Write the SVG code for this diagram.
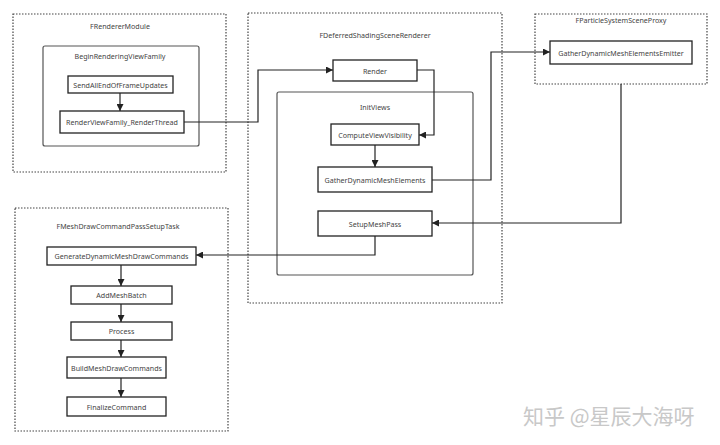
<svg xmlns="http://www.w3.org/2000/svg" width="720" height="445" viewBox="0 0 720 445">
<defs>
<marker id="arr" viewBox="0 0 10 10" refX="10" refY="5" markerWidth="7" markerHeight="7" markerUnits="userSpaceOnUse" orient="auto">
<path d="M0,0 L10,5 L0,10 z" fill="#222"/>
</marker>
<style>
text{font-family:"Noto Sans","Open Sans","DejaVu Sans",sans-serif;font-size:7.1px;fill:#444;text-anchor:middle;dominant-baseline:central}
.grp{fill:none;stroke:#444;stroke-width:1.2;stroke-dasharray:1.5 1.5}
.sub{fill:none;stroke:#555;stroke-width:1.2}
.box{fill:#fff;stroke:#222;stroke-width:1.3}
.c{fill:none;stroke:#222;stroke-width:1.2}
.wm{font-family:"Noto Sans CJK SC",sans-serif;font-size:21px;fill:#c8c8c8;text-anchor:start;dominant-baseline:auto}
</style>
</defs>
<rect width="720" height="445" fill="#fff"/>

<g id="FRendererModule">
<rect class="grp" x="13" y="14" width="213" height="158"/>
<text x="120" y="26">FRendererModule</text>
</g>
<g id="BeginRenderingViewFamily">
<rect class="sub" x="43" y="46" width="156" height="100" rx="2"/>
<text x="120" y="56">BeginRenderingViewFamily</text>
</g>
<g id="SendAllEndOfFrameUpdates">
<rect class="box" x="68" y="76" width="105" height="17"/>
<text x="120.5" y="84.5">SendAllEndOfFrameUpdates</text>
</g>
<g id="RenderViewFamily_RenderThread">
<rect class="box" x="60" y="111" width="124" height="22"/>
<text x="122" y="122">RenderViewFamily_RenderThread</text>
</g>

<g id="FDeferredShadingSceneRenderer">
<rect class="grp" x="248" y="13" width="254" height="290"/>
<text x="375" y="35">FDeferredShadingSceneRenderer</text>
</g>
<g id="Render">
<rect class="box" x="333" y="60" width="84" height="21"/>
<text x="375" y="70.5">Render</text>
</g>
<g id="InitViews">
<rect class="sub" x="277" y="92" width="196" height="183" rx="2"/>
<text x="375" y="107">InitViews</text>
</g>
<g id="ComputeViewVisibility">
<rect class="box" x="331" y="124" width="88" height="21"/>
<text x="375" y="134.5">ComputeViewVisibility</text>
</g>
<g id="GatherDynamicMeshElements">
<rect class="box" x="318" y="167" width="114" height="25"/>
<text x="375" y="179.5">GatherDynamicMeshElements</text>
</g>
<g id="SetupMeshPass">
<rect class="box" x="318" y="211" width="114" height="25"/>
<text x="375" y="223.5">SetupMeshPass</text>
</g>

<g id="FParticleSystemSceneProxy">
<rect class="grp" x="535" y="14" width="172" height="70"/>
<text x="621" y="20">FParticleSystemSceneProxy</text>
</g>
<g id="GatherDynamicMeshElementsEmitter">
<rect class="box" x="550" y="41" width="142" height="23"/>
<text x="621" y="52.5">GatherDynamicMeshElementsEmitter</text>
</g>

<g id="FMeshDrawCommandPassSetupTask">
<rect class="grp" x="15" y="208" width="213" height="223"/>
<text x="118" y="226">FMeshDrawCommandPassSetupTask</text>
</g>
<g id="GenerateDynamicMeshDrawCommands">
<rect class="box" x="47" y="247" width="149" height="18"/>
<text x="121.5" y="256">GenerateDynamicMeshDrawCommands</text>
</g>
<g id="AddMeshBatch">
<rect class="box" x="71" y="286" width="101" height="18"/>
<text x="121.5" y="295">AddMeshBatch</text>
</g>
<g id="Process">
<rect class="box" x="71" y="322" width="101" height="18"/>
<text x="121.5" y="331">Process</text>
</g>
<g id="BuildMeshDrawCommands">
<rect class="box" x="67" y="357" width="99" height="21"/>
<text x="116.5" y="367.5">BuildMeshDrawCommands</text>
</g>
<g id="FinalizeCommand">
<rect class="box" x="67" y="397" width="99" height="19"/>
<text x="116.5" y="406.5">FinalizeCommand</text>
</g>

<g id="connectors">
<path class="c" d="M120,93 V111" marker-end="url(#arr)"/>
<path class="c" d="M184,122 H258 V70 H333" marker-end="url(#arr)"/>
<path class="c" d="M417,70 H434 V135 H419" marker-end="url(#arr)"/>
<path class="c" d="M375,145 V167" marker-end="url(#arr)"/>
<path class="c" d="M432,180 H491 V52 H550" marker-end="url(#arr)"/>
<path class="c" d="M621,84 V223 H432" marker-end="url(#arr)"/>
<path class="c" d="M375,236 V255 H196" marker-end="url(#arr)"/>
<path class="c" d="M121,265 V286" marker-end="url(#arr)"/>
<path class="c" d="M121,304 V322" marker-end="url(#arr)"/>
<path class="c" d="M121,340 V357" marker-end="url(#arr)"/>
<path class="c" d="M121,378 V397" marker-end="url(#arr)"/>
</g>

<text class="wm" x="523" y="424">知乎 @星辰大海呀</text>
</svg>
